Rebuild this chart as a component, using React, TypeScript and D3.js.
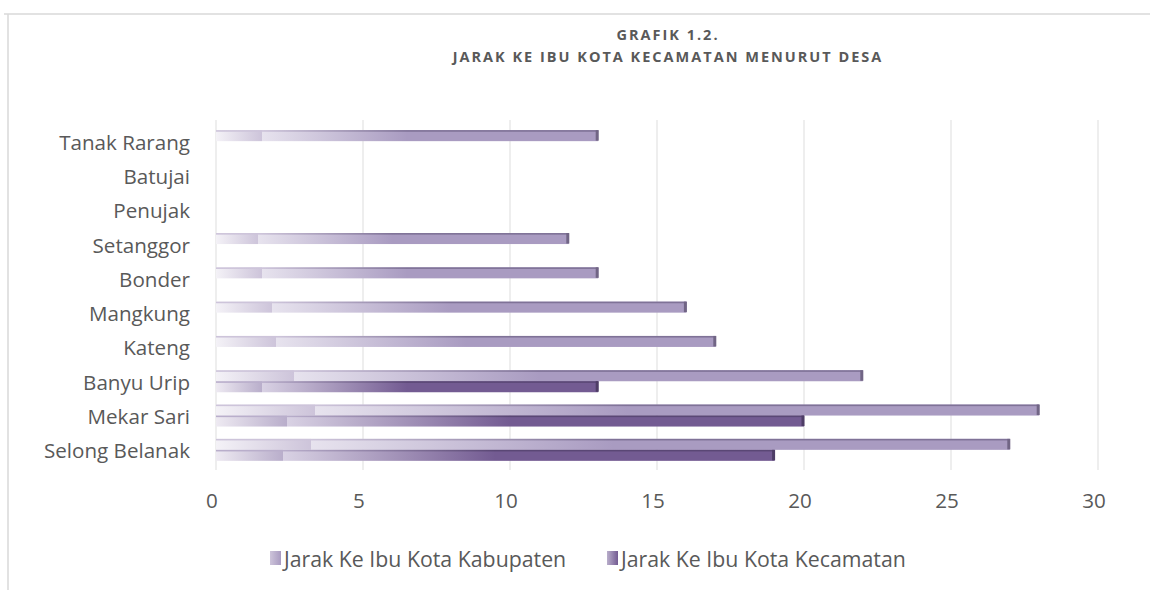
import React from "react";
import * as d3 from "d3";

const categories = ["Tanak Rarang", "Batujai", "Penujak", "Setanggor", "Bonder", "Mangkung", "Kateng", "Banyu Urip", "Mekar Sari", "Selong Belanak"];
const kabupaten = [13, 0, 0, 12, 13, 16, 17, 22, 28, 27];
const kecamatan = [0, 0, 0, 0, 0, 0, 0, 13, 20, 19];
const xTicks = [0, 5, 10, 15, 20, 25, 30];
const seriesNames = ["Jarak Ke Ibu Kota Kabupaten", "Jarak Ke Ibu Kota Kecamatan"];
const titleLines = ["GRAFIK 1.2.", "JARAK KE IBU KOTA KECAMATAN MENURUT DESA"];

const W = 1150;
const H = 590;
const FONT = "'Open Sans', sans-serif";
const TXT = "#595959";

const seriesStyle = [
  { id: "kab", full: "#a99bc1", pre0: "#f4f2f7", pre1: "#cdc4da", post0: "#e7e3ee", bevel: "#7f7297", cap: "#716585" },
  { id: "kec", full: "#735b92", pre0: "#eeeaf2", pre1: "#b9aecb", post0: "#d9d2e4", bevel: "#5a4775", cap: "#4e3d66" },
];

export default function App() {
  const x = d3.scaleLinear().domain([0, 30]).range([216, 1098]);
  const y = d3.scaleBand().domain(categories).range([124, 467]).padding(0);
  const barH = 11;
  const series = [kabupaten, kecamatan];

  return (
    <svg width={W} height={H} style={{ display: "block", position: "absolute", left: 0, top: 0 }}>
      <defs>
        {seriesStyle.map((s) => (
          <linearGradient key={s.id} id={`g-${s.id}`} x1="0" x2="1" y1="0" y2="0">
            <stop offset="0" stopColor={s.pre0} />
            <stop offset="0.12" stopColor={s.pre1} />
            <stop offset="0.12" stopColor={s.post0} />
            <stop offset="0.5" stopColor={s.full} />
            <stop offset="1" stopColor={s.full} />
          </linearGradient>
        ))}
        {seriesStyle.map((s) => (
          <linearGradient key={s.id + "b"} id={`gb-${s.id}`} x1="0" x2="1" y1="0" y2="0">
            <stop offset="0" stopColor={s.pre1} />
            <stop offset="0.12" stopColor={s.pre1} />
            <stop offset="0.5" stopColor={s.bevel} />
            <stop offset="1" stopColor={s.bevel} />
          </linearGradient>
        ))}
        {seriesStyle.map((s) => (
          <linearGradient key={s.id + "l"} id={`gl-${s.id}`} x1="0" x2="1" y1="0" y2="0">
            <stop offset="0" stopColor={s.pre1} />
            <stop offset="1" stopColor={s.full} />
          </linearGradient>
        ))}
      </defs>
      <rect x={0} y={0} width={W} height={H} fill="#fff" />
      {/* chart frame */}
      <line x1={4} x2={W} y1={14} y2={14} stroke="#d9d9d9" strokeWidth={1.5} />
      <line x1={8} x2={8} y1={14} y2={H} stroke="#d9d9d9" strokeWidth={1.5} />

      {/* title */}
      {titleLines.map((t, i) => (
        <text key={i} x={668} y={40 + i * 22} textAnchor="middle" fontFamily={FONT} fontWeight={700} fontSize={14.5} letterSpacing={2} fill={TXT}>
          {t}
        </text>
      ))}

      {/* gridlines */}
      {xTicks.map((t) => (
        <line key={t} x1={x(t)} x2={x(t)} y1={120} y2={470} stroke="#e8e8e8" strokeWidth={1.5} />
      ))}

      {/* bars */}
      {categories.map((c, i) => {
        const cy = (y(c) as number) + y.bandwidth() / 2;
        return series.map((vals, si) => {
          const v = vals[i];
          if (!v) return null;
          const s = seriesStyle[si];
          const top = si === 0 ? cy - barH : cy;
          const x0 = x(0);
          const x1 = x(v);
          return (
            <g key={c + si}>
              <rect x={x0} y={top} width={x1 - x0} height={barH} fill={`url(#g-${s.id})`} />
              <rect x={x0} y={top} width={x1 - x0} height={1.6} fill={`url(#gb-${s.id})`} />
              <rect x={x1 - 2.5} y={top} width={3} height={barH - 0.5} fill={s.cap} />
            </g>
          );
        });
      })}

      {/* category labels */}
      {categories.map((c) => (
        <text key={c} x={190} y={(y(c) as number) + y.bandwidth() / 2 + 0.5} textAnchor="end" dominantBaseline="central" fontFamily={FONT} fontSize={20.6} fill={TXT}>
          {c}
        </text>
      ))}

      {/* x tick labels */}
      {xTicks.map((t) => (
        <text key={t} x={x(t) - 4} y={500} textAnchor="middle" dominantBaseline="central" fontFamily={FONT} fontSize={20.6} fill={TXT}>
          {t}
        </text>
      ))}

      {/* legend */}
      {[270, 607].map((lx, i) => (
        <g key={i}>
          <rect x={lx} y={551} width={11} height={14} fill={`url(#gl-${seriesStyle[i].id})`} />
          <text x={lx + 14} y={558} dominantBaseline="central" fontFamily={FONT} fontSize={21.3} fill={TXT}>
            {seriesNames[i]}
          </text>
        </g>
      ))}
    </svg>
  );
}
